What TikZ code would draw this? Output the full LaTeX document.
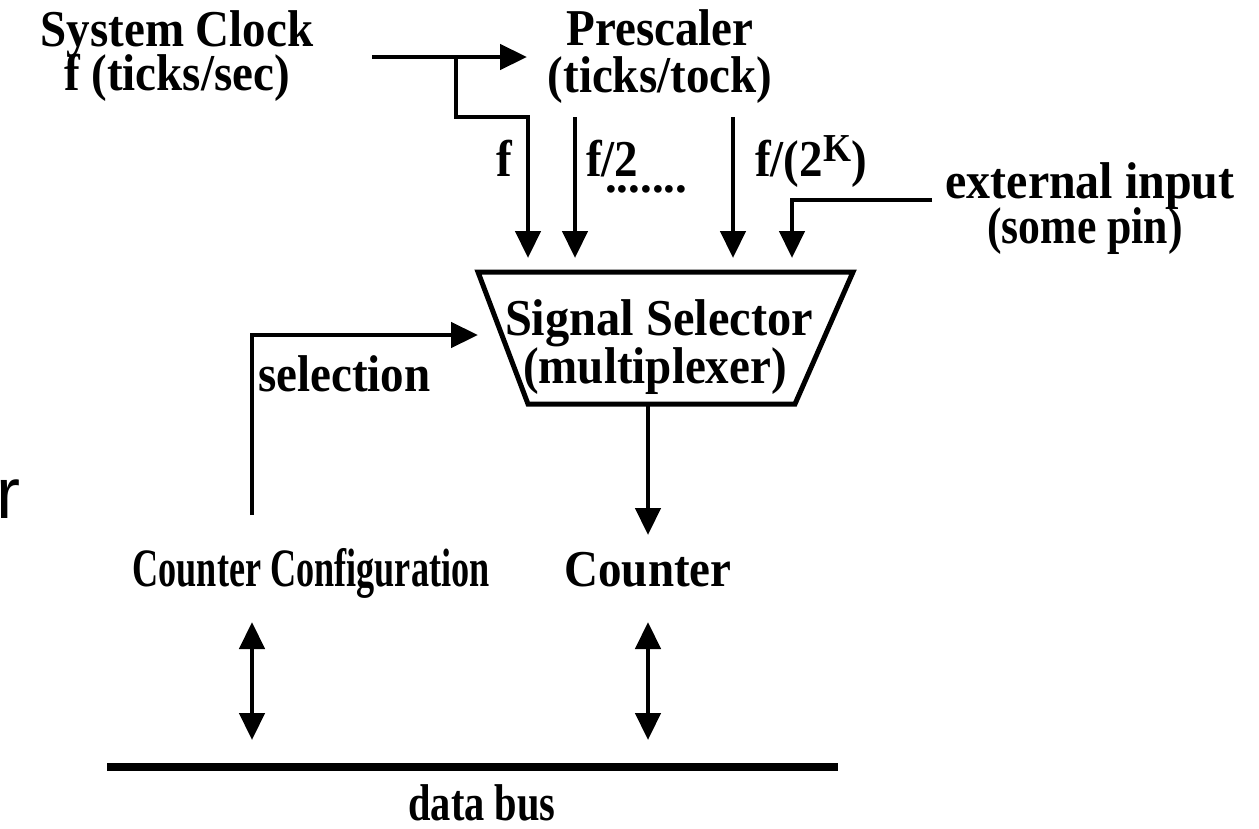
\documentclass[tikz,border=0pt]{standalone}
\usepackage{fontspec}
\usepackage{graphicx}
\setmainfont{Liberation Serif}
\setsansfont{Liberation Sans}
\usetikzlibrary{arrows.meta}
\newcommand{\tallx}[2][1]{\scalebox{#1}[1.1]{#2}}
\begin{document}
\begin{tikzpicture}[x=1pt,y=-1pt,
  lbl/.style={font=\fontsize{47}{42}\selectfont\bfseries, inner sep=0pt},
  wire/.style={line width=4.5pt},
  arr/.style={wire, -{Triangle[length=27pt,width=25pt]}},
  darr/.style={wire, {Triangle[length=27pt,width=25pt]}-{Triangle[length=27pt,width=25pt]}},
  bus/.style={line width=8pt}]
\useasboundingbox (0,0) rectangle (1259,828);

% texts
\node[lbl, anchor=base] (sc1) at (177,46) {\tallx{System Clock}};
\node[lbl, anchor=base] (sc2) at (177,90) {\tallx{f (ticks/sec)}};
\node[lbl, anchor=base] (ps1) at (660,45) {\tallx{Prescaler}};
\node[lbl, anchor=base] (ps2) at (660,92) {\tallx{(ticks/tock)}};
\node[lbl, anchor=base] (lf) at (504,176) {\tallx{f}};
\node[lbl, anchor=base west] (lf2) at (586,176) {\tallx{f/2}};
\node[lbl, anchor=base west] (ldots) at (605,192) {.......};
\node[lbl, anchor=base west] (lfk) at (755,176) {\tallx{f/(2\raisebox{13pt}{\fontsize{36}{36}\selectfont K})}};
\node[lbl, anchor=base] (ext1) at (1090,198) {\tallx[1.02]{external input}};
\node[lbl, anchor=base] (ext2) at (1085,243) {\tallx[0.93]{(some pin)}};
\node[lbl, anchor=base] (ss1) at (659,335) {\tallx[1.03]{Signal Selector}};
\node[lbl, anchor=base] (ss2) at (655,383) {\tallx{(multiplexer)}};
\node[lbl, anchor=base west] (lsel) at (258,391) {\tallx{selection}};
\node[lbl, anchor=base] (cc) at (311,586) {\scalebox{0.77}[1.15]{Counter Configuration}};
\node[lbl, anchor=base] (cnt) at (648,586) {\tallx{Counter}};
\node[lbl, anchor=base] (db) at (482,820) {\tallx[0.86]{data bus}};
\node[font=\fontsize{72}{72}\selectfont\sffamily, inner sep=0pt, anchor=base west] (rr) at (-4,518) {r};

% multiplexer trapezoid
\coordinate (mtl) at (478,272);
\coordinate (mtr) at (853,272);
\coordinate (mbr) at (795,404);
\coordinate (mbl) at (528,404);
\draw[line width=5pt] (mtl) -- (mtr) -- (mbr) -- (mbl) -- cycle;

% connectors
\coordinate (clkS) at (372,57);
\coordinate (psIn) at (527,57);
\coordinate (brA) at (456,57);
\coordinate (brB) at (456,117);
\coordinate (brC) at (528,117);
\coordinate (inF) at (528,258);
\coordinate (f2S) at (575,117);
\coordinate (inF2) at (575,258);
\coordinate (fkS) at (733,117);
\coordinate (inFK) at (733,258);
\coordinate (exS) at (932,200);
\coordinate (exB) at (792,200);
\coordinate (inEx) at (792,258);
\coordinate (selS) at (252,515);
\coordinate (selB) at (252,335);
\coordinate (selE) at (478,335);
\coordinate (outS) at (648,404);
\coordinate (outE) at (648,535);
\coordinate (ccT) at (252,622);
\coordinate (ccB) at (252,740);
\coordinate (cnT) at (648,622);
\coordinate (cnB) at (648,740);
\coordinate (busL) at (107,767);
\coordinate (busR) at (838,767);

\draw[arr] (clkS) -- (psIn);
\draw[arr] (brA) -- (brB) -- (brC) -- (inF);
\draw[arr] (f2S) -- (inF2);
\draw[arr] (fkS) -- (inFK);
\draw[arr] (exS) -- (exB) -- (inEx);
\draw[arr] (selS) -- (selB) -- (selE);
\draw[arr] (outS) -- (outE);
\draw[darr] (ccT) -- (ccB);
\draw[darr] (cnT) -- (cnB);
\draw[bus] (busL) -- (busR);
\end{tikzpicture}
\end{document}
